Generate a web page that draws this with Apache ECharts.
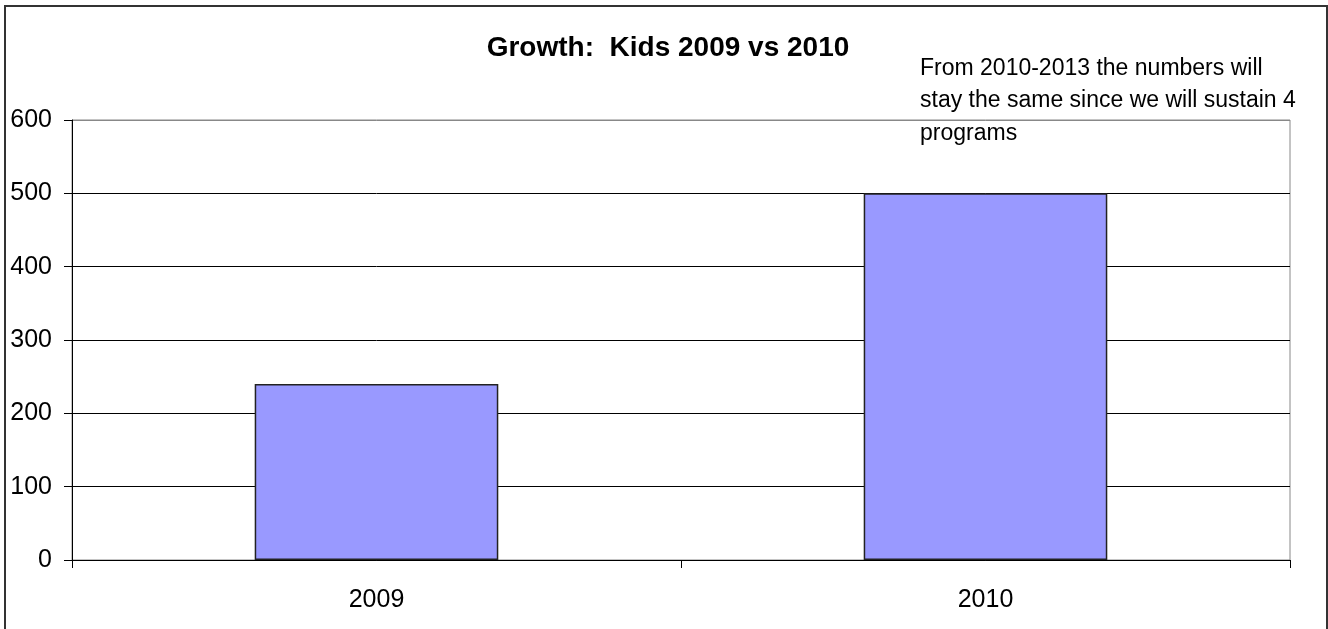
<!DOCTYPE html>
<html><head><meta charset="utf-8">
<script src="https://cdn.jsdelivr.net/npm/echarts@6/dist/echarts.min.js"></script>
<style>html,body{margin:0;padding:0;background:#fff}#c{width:1328px;height:629px}</style>
</head><body><div id="c"></div>
<script>
const categories = ['2009', '2010'];
const kidsValues = [240, 500];
const yTicks = [0, 100, 200, 300, 400, 500, 600];
const titleText = 'Growth:  Kids 2009 vs 2010';
const noteText = 'From 2010-2013 the numbers will\nstay the same since we will sustain 4\nprograms';

const FONT = '"Liberation Sans", Arial, sans-serif';
const chart = echarts.init(document.getElementById('c'), null, {renderer: 'canvas'});
chart.setOption({
  animation: false,
  backgroundColor: '#fff',
  title: {
    text: titleText, left: 663, top: 29, textAlign: 'center',
    textStyle: {fontFamily: FONT, fontWeight: 'bold', fontSize: 28, color: '#000'}
  },
  grid: {left: 72, right: 38, top: 120, bottom: 69, show: true, borderColor: '#888', borderWidth: 1, backgroundColor: 'transparent'},
  xAxis: {
    type: 'category', data: categories,
    axisLine: {lineStyle: {color: '#000', width: 1}},
    axisTick: {show: true, length: 8, alignWithLabel: false, lineStyle: {color: '#000'}},
    axisLabel: {fontFamily: FONT, fontSize: 25, color: '#000', margin: 28}
  },
  yAxis: {
    type: 'value', min: yTicks[0], max: yTicks[yTicks.length - 1], interval: 100,
    axisLine: {show: true, lineStyle: {color: '#000', width: 1}},
    axisTick: {show: true, length: 8, lineStyle: {color: '#000'}},
    axisLabel: {fontFamily: FONT, fontSize: 25, color: '#000', margin: 20},
    splitLine: {show: true, lineStyle: {color: ['#000', '#000', '#000', '#000', '#000', '#000', '#888'], width: 1}}
  },
  series: [{
    type: 'bar', data: kidsValues, barWidth: '40%',
    itemStyle: {color: '#9999FF', borderColor: '#222', borderWidth: 1.5}
  }],
  graphic: [
    {type: 'rect', shape: {x: 5, y: 6, width: 1322, height: 640}, style: {fill: 'none', stroke: '#333', lineWidth: 2}, silent: true},
    {type: 'text', left: 920, top: 52, style: {text: noteText, fontFamily: FONT, fontSize: 23, lineHeight: 32.5, fill: '#000'}}
  ]
});
</script></body></html>
